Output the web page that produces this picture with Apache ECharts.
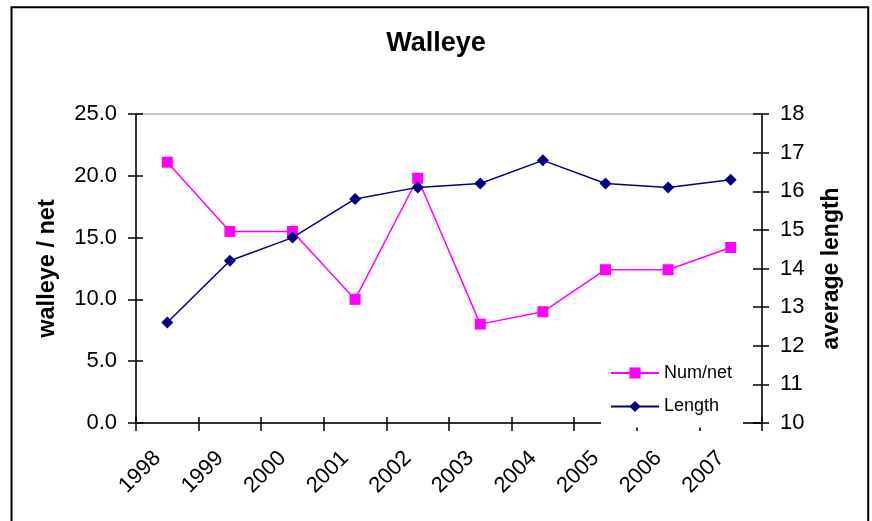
<!DOCTYPE html>
<html>
<head>
<meta charset="utf-8">
<script src="https://cdn.jsdelivr.net/npm/echarts@6/dist/echarts.min.js"></script>
<style>
html,body{margin:0;padding:0;background:#fff;}
#chart{width:872px;height:521px;}
</style>
</head>
<body>
<div id="chart"></div>
<script>
const years = ['1998','1999','2000','2001','2002','2003','2004','2005','2006','2007'];
const numPerNet = [21.1, 15.5, 15.5, 10.0, 19.8, 8.0, 9.0, 12.4, 12.4, 14.2];
const avgLength = [12.6, 14.2, 14.8, 15.8, 16.1, 16.2, 16.8, 16.2, 16.1, 16.3];
const titleText = 'Walleye';
const leftName = 'walleye / net';
const rightName = 'average length';
const seriesNames = ['Num/net', 'Length'];

const FONT = '"Liberation Sans", Arial, sans-serif';
const chart = echarts.init(document.getElementById('chart'), null, {renderer: 'canvas'});

const grid = {left: 136, right: 110, top: 114, bottom: 98, show: true, borderColor: '#8c8c8c', borderWidth: 1, backgroundColor: 'transparent'};

chart.setOption({
  animation: false,
  backgroundColor: '#fff',
  title: {
    text: titleText, left: 'center', top: 25,
    textStyle: {fontFamily: FONT, fontSize: 27, fontWeight: 'bold', color: '#000'}
  },
  legend: {
    orient: 'vertical', left: 601, top: 354,
    backgroundColor: '#fff',
    padding: [10, 11, 12, 9],
    itemWidth: 48, itemHeight: 14, itemGap: 15.5,
    textStyle: {fontFamily: FONT, fontSize: 18, color: '#000'},
    data: seriesNames
  },
  grid: grid,
  xAxis: [{
    type: 'category', data: years, boundaryGap: true,
    axisLine: {show: true, lineStyle: {color: '#000', width: 1.5}},
    axisTick: {show: true, inside: false, length: 8, lineStyle: {color: '#000', width: 1.5}},
    axisLabel: {rotate: 45, margin: 22, padding: [0, 14, 0, 0], fontFamily: FONT, fontSize: 22, color: '#000'},
    splitLine: {show: false}
  }, {
    type: 'category', data: years, boundaryGap: true, position: 'bottom',
    axisLine: {show: false},
    axisTick: {show: true, inside: true, length: 6, lineStyle: {color: '#000', width: 1.5}},
    axisLabel: {show: false}, splitLine: {show: false}
  }],
  yAxis: [{
    type: 'value', min: 0, max: 25, interval: 5, position: 'left',
    name: leftName, nameLocation: 'middle', nameGap: 76, nameRotate: 90,
    nameTextStyle: {fontFamily: FONT, fontSize: 23.5, fontWeight: 'bold', color: '#000'},
    axisLine: {show: true, lineStyle: {color: '#000', width: 1.5}},
    axisTick: {show: true, length: 8, lineStyle: {color: '#000', width: 1.5}},
    axisLabel: {margin: 19, fontFamily: FONT, fontSize: 22, color: '#000', formatter: v => v.toFixed(1)},
    splitLine: {show: false}
  }, {
    type: 'value', min: 10, max: 18, interval: 1, position: 'right',
    name: rightName, nameLocation: 'middle', nameGap: 58, nameRotate: 90,
    nameTextStyle: {fontFamily: FONT, fontSize: 23, fontWeight: 'bold', color: '#000'},
    axisLine: {show: true, lineStyle: {color: '#000', width: 1.5}},
    axisTick: {show: true, length: 7, lineStyle: {color: '#000', width: 1.5}},
    axisLabel: {margin: 18, fontFamily: FONT, fontSize: 22, color: '#000'},
    splitLine: {show: false}
  }, {
    type: 'value', min: 0, max: 25, interval: 5, position: 'left',
    axisLine: {show: false},
    axisTick: {show: true, inside: true, length: 7, lineStyle: {color: '#000', width: 1.5}},
    axisLabel: {show: false}, splitLine: {show: false}
  }, {
    type: 'value', min: 10, max: 18, interval: 1, position: 'right',
    axisLine: {show: false},
    axisTick: {show: true, inside: true, length: 9, lineStyle: {color: '#000', width: 1.5}},
    axisLabel: {show: false}, splitLine: {show: false}
  }],
  series: [{
    name: seriesNames[0], type: 'line', xAxisIndex: 0, yAxisIndex: 0,
    data: numPerNet,
    symbol: 'rect', symbolSize: 11,
    lineStyle: {color: '#ff00ff', width: 1.5},
    itemStyle: {color: '#ff00ff'},
    z: 3
  }, {
    name: seriesNames[1], type: 'line', xAxisIndex: 0, yAxisIndex: 1,
    data: avgLength,
    symbol: 'diamond', symbolSize: 12,
    lineStyle: {color: '#000080', width: 1.5},
    itemStyle: {color: '#000080'},
    z: 4
  }],
  graphic: [{
    type: 'rect', left: 9, top: 4.7, z: 100, silent: true,
    shape: {x: 0, y: 0, width: 856.7, height: 600},
    style: {fill: 'none', stroke: '#000', lineWidth: 2}
  }]
});
</script>
</body>
</html>
